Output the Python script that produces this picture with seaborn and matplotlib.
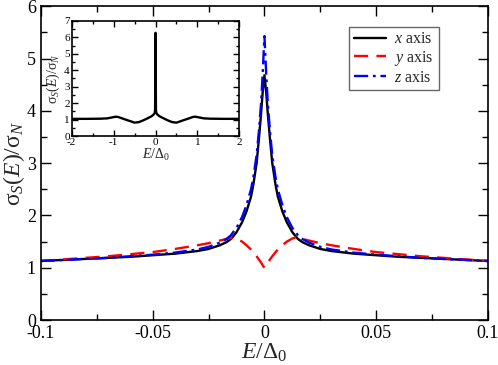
import numpy as np
import pandas as pd
import seaborn as sns
import matplotlib.pyplot as plt
from matplotlib.ticker import MultipleLocator

# main panel: energy grid and conductance ratio for three field directions
energy = [-0.1, -0.09, -0.08, -0.07, -0.06, -0.05, -0.04, -0.03, -0.025, -0.02,
          -0.017, -0.015, -0.014, -0.0125, -0.01, -0.008, -0.006, -0.005, -0.0035,
          -0.0025, -0.0015, -0.0008, 0.0,
          0.0008, 0.0015, 0.0025, 0.0035, 0.005, 0.006, 0.008, 0.01, 0.0125, 0.014,
          0.015, 0.017, 0.02, 0.025, 0.03, 0.04, 0.05, 0.06, 0.07, 0.08, 0.09, 0.1]

sigma_x = [1.13, 1.15, 1.17, 1.19, 1.21, 1.24, 1.27, 1.32, 1.36, 1.43,
           1.49, 1.55, 1.60, 1.68, 1.87, 2.08, 2.36, 2.58, 3.00,
           3.45, 3.95, 4.35, 4.68,
           4.35, 3.95, 3.45, 3.00, 2.58, 2.36, 2.08, 1.87, 1.68, 1.60,
           1.55, 1.49, 1.43, 1.36, 1.32, 1.27, 1.24, 1.21, 1.19, 1.17, 1.15, 1.13]

sigma_y = [1.13, 1.16, 1.19, 1.22, 1.26, 1.30, 1.36, 1.43, 1.47, 1.52,
           1.55, 1.57, 1.58, 1.56, 1.50, 1.43, 1.35, 1.30, 1.22,
           1.16, 1.10, 1.05, 1.00,
           1.05, 1.10, 1.16, 1.22, 1.30, 1.35, 1.43, 1.50, 1.56, 1.58,
           1.57, 1.55, 1.52, 1.47, 1.43, 1.36, 1.30, 1.26, 1.22, 1.19, 1.16, 1.13]

sigma_z = [1.13, 1.15, 1.17, 1.19, 1.22, 1.25, 1.29, 1.35, 1.40, 1.48,
           1.55, 1.62, 1.68, 1.76, 1.97, 2.20, 2.50, 2.72, 3.15,
           3.60, 4.15, 4.70, 5.43,
           4.70, 4.15, 3.60, 3.15, 2.72, 2.50, 2.20, 1.97, 1.76, 1.68,
           1.62, 1.55, 1.48, 1.40, 1.35, 1.29, 1.25, 1.22, 1.19, 1.17, 1.15, 1.13]

# inset: wide energy window, x axis only
energy_wide = [-2.0, -1.6, -1.3, -1.15, -1.05, -0.95, -0.9, -0.8, -0.65, -0.5,
               -0.4, -0.3, -0.2, -0.1, -0.05, -0.02, -0.01, 0.0,
               0.01, 0.02, 0.05, 0.1, 0.2, 0.3, 0.4, 0.5, 0.65, 0.8, 0.9,
               0.95, 1.05, 1.15, 1.3, 1.6, 2.0]
sigma_wide = [1.05, 1.05, 1.06, 1.08, 1.13, 1.18, 1.17, 1.08, 0.95, 0.82,
              0.85, 0.95, 1.07, 1.20, 1.30, 1.40, 1.60, 6.27,
              1.60, 1.40, 1.30, 1.20, 1.07, 0.95, 0.85, 0.82, 0.95, 1.08, 1.17,
              1.18, 1.13, 1.08, 1.06, 1.05, 1.05]

sns.set_style("ticks")
plt.rcParams['font.family'] = ['Liberation Serif', 'DejaVu Serif']
plt.rcParams['mathtext.fontset'] = 'custom'
plt.rcParams['mathtext.rm'] = 'Liberation Serif'
plt.rcParams['mathtext.it'] = 'Liberation Serif:italic'
plt.rcParams['axes.linewidth'] = 1.2
plt.rcParams['axes.unicode_minus'] = False


def style_ticks(ax, size, major=7, minor=4):
    ax.tick_params(which='both', direction='in', top=True, right=True,
                   width=1.0, labelsize=size, colors='black')
    ax.tick_params(which='major', length=major)
    ax.tick_params(which='minor', length=minor)
    for s in ax.spines.values():
        s.set_color('black')


fig = plt.figure(figsize=(4.98, 3.65), dpi=100)
ax = fig.add_axes([0.082, 0.123, 0.898, 0.860])

sns.lineplot(x=energy, y=sigma_x, ax=ax, color='black', lw=1.7, label=r'$x$ axis')
sns.lineplot(x=energy, y=sigma_y, ax=ax, color='#ff0000', lw=1.7,
             linestyle=(0, (6, 3.5)), label=r'$y$ axis')
sns.lineplot(x=energy, y=sigma_z, ax=ax, color='#0000ff', lw=1.7,
             linestyle=(0, (6, 2, 1.2, 2)), label=r'$z$ axis')

ax.set_xlim(-0.1, 0.1)
ax.set_ylim(0, 6)
ax.xaxis.set_major_locator(MultipleLocator(0.05))
ax.xaxis.set_minor_locator(MultipleLocator(0.025))
ax.yaxis.set_major_locator(MultipleLocator(1))
ax.yaxis.set_minor_locator(MultipleLocator(0.5))
ax.xaxis.set_major_formatter(plt.FuncFormatter(lambda v, p: f'{v:g}'))
style_ticks(ax, 13)
ax.set_xlabel(r'$E/\Delta_0$', fontsize=17, labelpad=0)
ax.set_ylabel(r'$\mathrm{σ}_S(E)/\mathrm{σ}_N$', fontsize=17)
ax.yaxis.set_label_coords(-0.03, 0.5)

leg = ax.legend(loc='upper right', bbox_to_anchor=(0.89, 0.935), fontsize=11.5,
                frameon=True, fancybox=False, handlelength=2.0,
                borderpad=0.3, labelspacing=0.1, handletextpad=0.55,
                borderaxespad=0.0)
leg.get_frame().set_edgecolor('#404040')
leg.get_frame().set_linewidth(1.0)

ins = fig.add_axes([0.144, 0.627, 0.3366, 0.316])
sns.lineplot(x=energy_wide, y=sigma_wide, ax=ins, color='black', lw=1.7)
ins.set_xlim(-2, 2)
ins.set_ylim(0, 7)
ins.xaxis.set_major_locator(MultipleLocator(1))
ins.xaxis.set_minor_locator(MultipleLocator(0.5))
ins.yaxis.set_major_locator(MultipleLocator(1))
ins.yaxis.set_minor_locator(MultipleLocator(0.5))
style_ticks(ins, 8, major=4, minor=2.5)
ins.tick_params(axis='both', pad=1.5)
ins.set_xlabel(r'$E/\Delta_0$', fontsize=10, labelpad=0)
ins.set_ylabel(r'$\mathrm{σ}_S(E)/\mathrm{σ}_N$', fontsize=10)
ins.yaxis.set_label_coords(-0.058, 0.5)

fig.savefig('out.png', dpi=100)
